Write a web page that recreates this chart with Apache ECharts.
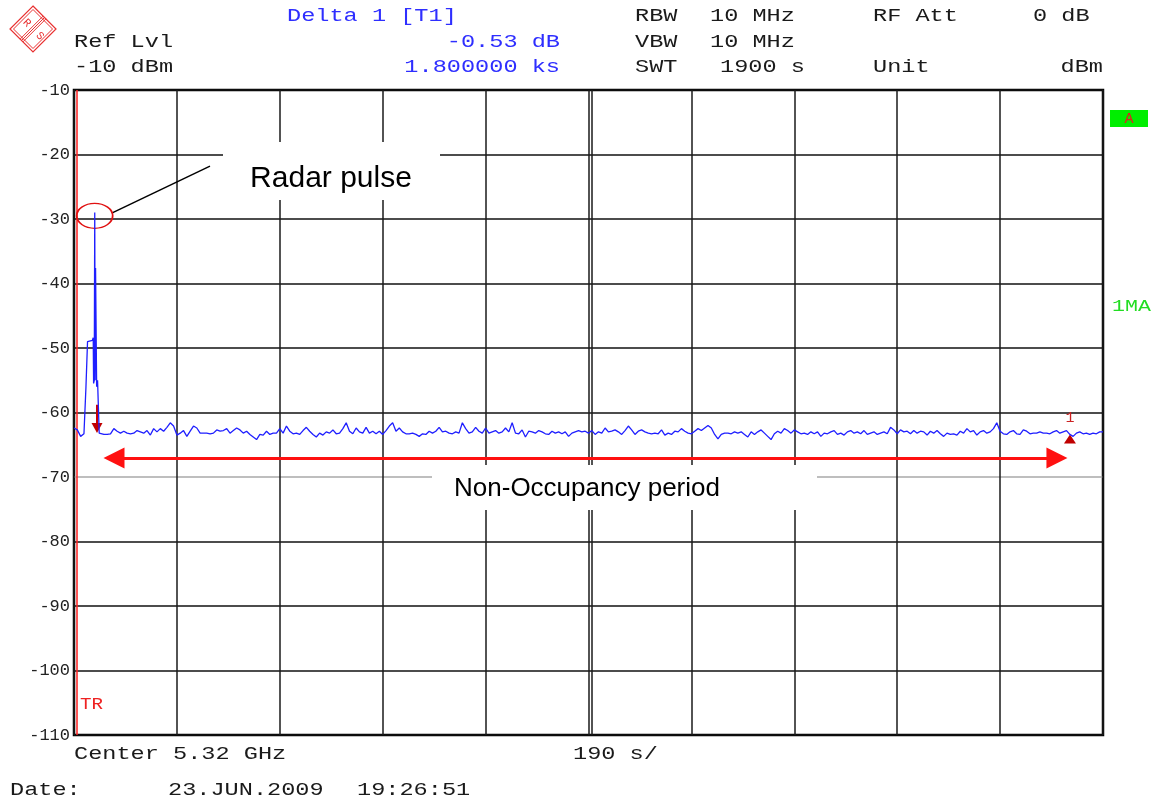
<!DOCTYPE html>
<html><head><meta charset="utf-8">
<script src="https://cdn.jsdelivr.net/npm/echarts@6/dist/echarts.min.js"></script>
<style>html,body{margin:0;padding:0;background:#fff}#c{width:1155px;height:803px}</style>
</head><body><div id="c"></div>
<script>
// ---- data ----
const sweepTime = 1900;            // s (190 s / div)
const xDivision = 190;
const yMin = -110, yMax = -10, yStep = 10;

// noise floor, uniformly spaced sweep points over 0..1900 s (dBm)
const noiseValues = [
-62.4,-62.7,-63.7,-63.3,-63.0,-63.0,-63.0,-63.0,-63.4,-63.4,-63.4,-63.3,-62.5,-62.9,-63.2,-62.9,-63.2,-63.3,-63.2,-62.8,-63.0,-63.2,-62.8,-63.5,-62.5,-63.0,-62.5,-62.9,-62.3,-61.6,-62.1,
-63.5,-63.2,-62.8,-63.7,-62.9,-62.1,-62.4,-63.2,-63.2,-63.2,-63.3,-63.2,-62.7,-62.9,-62.8,-62.5,-63.2,-62.8,-62.4,-62.7,-63.2,-62.9,-63.4,-63.8,-64.2,-63.4,-63.5,-62.9,-63.4,-63.2,-63.2,
-62.5,-63.2,-62.1,-62.9,-63.3,-63.2,-63.4,-62.8,-62.3,-62.9,-63.4,-63.8,-63.2,-63.5,-63.0,-63.2,-62.7,-63.3,-63.2,-62.5,-61.6,-62.9,-63.3,-62.4,-63.0,-63.2,-62.3,-63.2,-62.9,-63.3,-62.9,
-63.4,-62.8,-62.1,-61.6,-62.9,-62.4,-63.0,-63.3,-63.3,-63.2,-63.4,-63.7,-63.3,-63.4,-62.9,-63.2,-62.9,-62.3,-63.0,-62.9,-63.2,-63.3,-63.0,-63.2,-61.6,-62.5,-63.2,-63.0,-62.3,-62.9,-63.2,
-62.4,-63.2,-63.0,-62.8,-63.2,-63.0,-62.4,-63.0,-61.6,-63.2,-63.3,-62.7,-63.8,-62.9,-63.0,-63.2,-62.8,-63.0,-63.3,-63.4,-62.9,-63.2,-63.0,-63.3,-63.0,-63.7,-63.2,-63.0,-62.8,-63.0,-62.9,
-63.2,-62.8,-63.4,-63.0,-63.2,-62.4,-63.0,-62.9,-62.7,-63.0,-63.4,-62.8,-62.1,-62.7,-63.4,-62.9,-62.7,-63.0,-63.2,-63.3,-63.2,-63.3,-62.7,-63.5,-63.2,-63.4,-62.9,-63.0,-62.5,-62.9,-63.2,
-63.3,-62.9,-62.5,-62.8,-62.4,-62.0,-62.4,-63.4,-64.1,-63.4,-63.2,-63.2,-63.3,-63.0,-63.2,-63.0,-63.4,-63.8,-63.0,-63.4,-63.0,-62.7,-63.2,-63.7,-64.2,-63.3,-62.9,-63.2,-62.5,-62.8,-63.2,
-62.7,-63.0,-63.3,-63.2,-63.4,-63.0,-63.3,-63.0,-63.7,-63.2,-63.3,-63.0,-62.8,-63.4,-63.2,-63.5,-63.0,-62.8,-63.2,-63.0,-63.3,-62.8,-63.4,-63.2,-63.0,-63.4,-63.2,-63.0,-63.3,-62.3,-62.7,
-63.3,-62.7,-63.0,-62.9,-63.3,-62.8,-63.2,-62.9,-63.0,-63.5,-62.9,-63.2,-62.8,-63.3,-63.7,-63.2,-63.4,-63.3,-63.5,-62.9,-63.2,-62.5,-63.0,-62.8,-63.5,-63.0,-62.8,-63.2,-63.0,-62.5,-61.6,-62.9,
-63.3,-63.4,-63.0,-62.8,-63.3,-63.4,-62.7,-62.9,-63.3,-63.2,-63.2,-63.0,-63.2,-63.2,-63.3,-63.0,-62.8,-63.2,-63.0,-62.8,-63.4,-63.7,-63.2,-63.0,-63.3,-63.2,-63.4,-63.2,-63.3,-63.0,-63.0
];

// radar pulse detail (s, dBm)
const pulseTimes  = [20.3, 22.0, 24.0, 25.0, 34.0, 35.5, 36.2, 37.4, 38.3, 39.0, 39.8, 41.0, 41.8, 43.5, 45.2, 46.5];
const pulseValues = [-63.2,-56.2,-56.0,-49.0,-48.8,-48.4,-55.5,-55.0,-29.0,-55.0,-37.6,-37.6,-56.0,-55.0,-55.2,-63.2];

// annotations (s, dBm)
const triggerTime = 4.6;
const marker1 = [42.5, -62.4];          // T1 marker at the pulse
const marker1Stem = [-58.8, -61.9];
const deltaMarker = [1839, -64.1];      // delta marker 1
const periodArrow = [[73.9, -67.05], [1815, -67.05]];
const pulseCircle = [38.2, -29.5];
const leaderLine = [[69.6, -29.1], [251.1, -21.8]];
const centerDoubleLine = 956;

// ---- build trace ----
const step = sweepTime / (noiseValues.length - 1);
const trace = [];
const pStart = pulseTimes[0], pEnd = pulseTimes[pulseTimes.length - 1];
noiseValues.forEach((v, i) => {
  const t = i * step;
  if (t < pStart || t > pEnd) trace.push([t, v]);
});
pulseTimes.forEach((t, i) => trace.push([t, pulseValues[i]]));
trace.sort((a, b) => a[0] - b[0]);

// ---- helpers for instrument-style text ----
const MONO = 'Liberation Mono';
function txt(text, x, y, color, align, size, sx) {
  return {
    type: 'text', x: x, y: y, z: 100, scaleX: sx || 1.31,
    style: { text: text, font: (size || 18) + 'px "' + MONO + '"', fill: color,
             textAlign: align || 'left', textVerticalAlign: 'middle' }
  };
}
const BLK = '#1a1a1a', BLUE = '#2e2eff';

const hColors = ['#111','#111','#111','#111','#a8a8a8','#111','#111','#111','#111','#111','#111'];

const chart = echarts.init(document.getElementById('c'), null, { renderer: 'canvas' });
chart.setOption({
  animation: false,
  backgroundColor: '#fff',
  grid: { left: 74, right: 52, top: 90, bottom: 68, show: true, borderColor: '#000', borderWidth: 2.5, backgroundColor: 'transparent' },
  xAxis: {
    type: 'value', min: 0, max: sweepTime, interval: xDivision,
    axisLine: { show: false }, axisTick: { show: false }, axisLabel: { show: false },
    splitLine: { show: true, lineStyle: { color: '#1a1a1a', width: 1.5 } }
  },
  yAxis: {
    type: 'value', min: yMin, max: yMax, interval: yStep,
    axisLine: { show: false }, axisTick: { show: false },
    axisLabel: { color: '#222', fontFamily: MONO, fontSize: 17, margin: 4 },
    splitLine: { show: true, lineStyle: { color: hColors, width: 1.5 } }
  },
  series: [
    {
      type: 'line', data: trace, showSymbol: false, silent: true, z: 5,
      lineStyle: { color: '#1f1fff', width: 1.3 },
    },
    {
      type: 'line', data: [], silent: true, z: 6,
      markLine: {
        silent: true, symbol: 'none', label: { show: false },
        data: [
          [{ coord: [triggerTime, yMin], lineStyle: { color: '#ff2020', width: 1.5, type: 'solid' } }, { coord: [triggerTime, yMax] }],
          [{ coord: [centerDoubleLine, yMin], lineStyle: { color: '#1a1a1a', width: 1.5, type: 'solid' } }, { coord: [centerDoubleLine, yMax] }],
          [{ coord: leaderLine[0], lineStyle: { color: '#000', width: 1.5, type: 'solid' } }, { coord: leaderLine[1] }],
          [{ coord: [marker1[0], marker1Stem[0]], lineStyle: { color: '#cc0000', width: 2, type: 'solid' } }, { coord: [marker1[0], marker1Stem[1]] }],
          [{ coord: periodArrow[0], symbol: 'triangle', symbolSize: 21, lineStyle: { color: '#ff1010', width: 3, type: 'solid' } },
           { coord: periodArrow[1], symbol: 'triangle', symbolSize: 21 }]
        ]
      },
      markPoint: {
        silent: true,
        data: [
          { coord: pulseCircle, symbol: 'circle', symbolSize: [36, 25],
            itemStyle: { color: 'rgba(0,0,0,0)', borderColor: '#e01010', borderWidth: 1.5 }, label: { show: false } },
          { coord: marker1, symbol: 'triangle', symbolRotate: 180, symbolSize: [11, 10],
            itemStyle: { color: '#c00000' }, label: { show: false } },
          { coord: deltaMarker, symbol: 'triangle', symbolSize: [12, 9],
            itemStyle: { color: '#c00000' },
            label: { show: true, formatter: '1', position: 'top', distance: 9, color: '#cc2222', fontFamily: MONO, fontSize: 15 } }
        ]
      }
    }
  ],
  graphic: { elements: [
    // R&S logo
    { type: 'polygon', z: 100, shape: { points: [[33,6],[56,29],[33,52],[10,29]] }, style: { fill: 'none', stroke: '#e83030', lineWidth: 1.2 } },
    { type: 'polygon', z: 100, shape: { points: [[33,9.5],[52.5,29],[33,48.5],[13.5,29]] }, style: { fill: 'none', stroke: '#e83030', lineWidth: 1 } },
    { type: 'line', z: 100, shape: { x1: 43.1, y1: 16.1, x2: 20.1, y2: 39.1 }, style: { stroke: '#e83030', lineWidth: 1 } },
    { type: 'line', z: 100, shape: { x1: 44.5, y1: 17.5, x2: 21.5, y2: 40.5 }, style: { stroke: '#e83030', lineWidth: 1 } },
    { type: 'line', z: 100, shape: { x1: 45.9, y1: 18.9, x2: 22.9, y2: 41.9 }, style: { stroke: '#e83030', lineWidth: 1 } },
    { type: 'text', z: 100, x: 27, y: 23, rotation: -Math.PI / 4, style: { text: 'R', font: '11px "' + MONO + '"', fill: '#e83030', textAlign: 'center', textVerticalAlign: 'middle' } },
    { type: 'text', z: 100, x: 40, y: 36, rotation: -Math.PI / 4, style: { text: 'S', font: '11px "' + MONO + '"', fill: '#e83030', textAlign: 'center', textVerticalAlign: 'middle' } },
    // header
    txt('Delta 1 [T1]', 287, 16, BLUE),
    txt('Ref Lvl', 74, 42, BLK),
    txt('-10 dBm', 74, 67, BLK),
    txt('-0.53 dB', 560, 42, BLUE, 'right'),
    txt('1.800000 ks', 560, 67, BLUE, 'right'),
    txt('RBW', 635, 16, BLK), txt('10 MHz', 710, 16, BLK),
    txt('VBW', 635, 42, BLK), txt('10 MHz', 710, 42, BLK),
    txt('SWT', 635, 67, BLK), txt('1900 s', 720, 67, BLK),
    txt('RF Att', 873, 16, BLK), txt('0 dB', 1033, 16, BLK),
    txt('Unit', 873, 67, BLK), txt('dBm', 1103, 67, BLK, 'right'),
    // footer
    txt('Center 5.32 GHz', 74, 754, BLK),
    txt('190 s/', 573, 754, BLK),
    txt('Date:', 10, 790, BLK),
    txt('23.JUN.2009', 168, 790, BLK),
    txt('19:26:51', 357, 790, BLK),
    // side indicators
    { type: 'rect', z: 100, shape: { x: 1110, y: 110, width: 38, height: 17 }, style: { fill: '#00ee00' } },
    { type: 'text', z: 101, x: 1129, y: 119, style: { text: 'A', font: '15px "' + MONO + '"', fill: '#e02020', textAlign: 'center', textVerticalAlign: 'middle' } },
    txt('1MA', 1112, 307, '#22dd22', 'left', 16, 1.35),
    txt('TR', 80, 705, '#ee2222', 'left', 16, 1.2),
    // callout boxes
    { type: 'rect', z: 100, shape: { x: 223, y: 142, width: 217, height: 58 }, style: { fill: '#fff' } },
    { type: 'text', z: 101, x: 331, y: 179, style: { text: 'Radar pulse', font: '30px "Liberation Sans"', fill: '#000', textAlign: 'center', textVerticalAlign: 'middle' } },
    { type: 'rect', z: 100, shape: { x: 432, y: 465, width: 385, height: 45 }, style: { fill: '#fff' } },
    { type: 'text', z: 101, x: 587, y: 489, style: { text: 'Non-Occupancy period', font: '26px "Liberation Sans"', fill: '#000', textAlign: 'center', textVerticalAlign: 'middle' } }
  ]}
});
</script>
</body></html>
